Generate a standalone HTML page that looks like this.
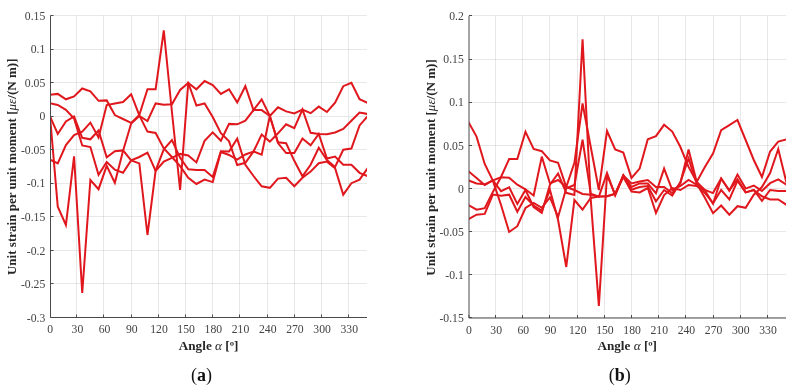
<!DOCTYPE html>
<html><head><meta charset="utf-8"><style>html,body{margin:0;padding:0;background:#fff;overflow:hidden}svg{display:block;will-change:transform;}</style></head>
<body><svg width="798" height="389" viewBox="0 0 798 389" font-family='"Liberation Serif", serif' font-size="13.3" fill="#262626">
<rect width="798" height="389" fill="#fff"/>
<line x1="76.5" y1="15.5" x2="76.5" y2="317.5" stroke="#000" stroke-opacity="0.09" stroke-width="1"/>
<line x1="103.5" y1="15.5" x2="103.5" y2="317.5" stroke="#000" stroke-opacity="0.09" stroke-width="1"/>
<line x1="131.5" y1="15.5" x2="131.5" y2="317.5" stroke="#000" stroke-opacity="0.09" stroke-width="1"/>
<line x1="158.5" y1="15.5" x2="158.5" y2="317.5" stroke="#000" stroke-opacity="0.09" stroke-width="1"/>
<line x1="185.5" y1="15.5" x2="185.5" y2="317.5" stroke="#000" stroke-opacity="0.09" stroke-width="1"/>
<line x1="212.5" y1="15.5" x2="212.5" y2="317.5" stroke="#000" stroke-opacity="0.09" stroke-width="1"/>
<line x1="239.5" y1="15.5" x2="239.5" y2="317.5" stroke="#000" stroke-opacity="0.09" stroke-width="1"/>
<line x1="267.5" y1="15.5" x2="267.5" y2="317.5" stroke="#000" stroke-opacity="0.09" stroke-width="1"/>
<line x1="294.5" y1="15.5" x2="294.5" y2="317.5" stroke="#000" stroke-opacity="0.09" stroke-width="1"/>
<line x1="321.5" y1="15.5" x2="321.5" y2="317.5" stroke="#000" stroke-opacity="0.09" stroke-width="1"/>
<line x1="348.5" y1="15.5" x2="348.5" y2="317.5" stroke="#000" stroke-opacity="0.09" stroke-width="1"/>
<line x1="51.0" y1="317.5" x2="367" y2="317.5" stroke="#000" stroke-opacity="0.09" stroke-width="1"/>
<line x1="51.0" y1="283.5" x2="367" y2="283.5" stroke="#000" stroke-opacity="0.09" stroke-width="1"/>
<line x1="51.0" y1="250.5" x2="367" y2="250.5" stroke="#000" stroke-opacity="0.09" stroke-width="1"/>
<line x1="51.0" y1="216.5" x2="367" y2="216.5" stroke="#000" stroke-opacity="0.09" stroke-width="1"/>
<line x1="51.0" y1="183.5" x2="367" y2="183.5" stroke="#000" stroke-opacity="0.09" stroke-width="1"/>
<line x1="51.0" y1="149.5" x2="367" y2="149.5" stroke="#000" stroke-opacity="0.09" stroke-width="1"/>
<line x1="51.0" y1="116.5" x2="367" y2="116.5" stroke="#000" stroke-opacity="0.09" stroke-width="1"/>
<line x1="51.0" y1="82.5" x2="367" y2="82.5" stroke="#000" stroke-opacity="0.09" stroke-width="1"/>
<line x1="51.0" y1="49.5" x2="367" y2="49.5" stroke="#000" stroke-opacity="0.09" stroke-width="1"/>
<line x1="51.0" y1="15.5" x2="367" y2="15.5" stroke="#000" stroke-opacity="0.09" stroke-width="1"/>
<clipPath id="ca"><rect x="50.5" y="-4.5" width="316.5" height="322.0"/></clipPath><g clip-path="url(#ca)">
<polyline points="49.60,94.70 57.76,93.90 65.91,99.30 74.07,96.40 82.23,88.50 90.38,91.40 98.54,100.80 106.70,100.40 114.85,115.10 123.01,119.00 131.17,122.90 139.32,115.00 147.48,89.20 155.64,89.20 163.79,30.30 171.95,112.00 180.11,190.00 188.26,83.00 196.42,89.30 204.58,81.00 212.73,85.10 220.89,93.90 229.05,89.30 237.20,102.40 245.36,86.20 253.52,110.10 261.67,99.30 269.83,116.00 277.99,107.30 286.14,111.40 294.30,113.40 302.46,109.50 310.61,113.20 318.77,106.60 326.93,112.00 335.08,102.60 343.24,86.20 351.40,82.80 359.55,99.20 367.71,102.90" fill="none" stroke="#e0181e" stroke-width="2" stroke-linejoin="miter" stroke-miterlimit="4"/>
<polyline points="49.60,103.10 57.76,105.00 65.91,109.80 74.07,118.50 82.23,145.50 90.38,147.00 98.54,174.80 106.70,162.00 114.85,169.70 123.01,172.80 131.17,160.40 139.32,157.00 147.48,152.70 155.64,170.90 163.79,161.60 171.95,157.80 180.11,153.90 188.26,155.50 196.42,162.40 204.58,140.80 212.73,132.40 220.89,140.80 229.05,123.90 237.20,124.30 245.36,120.70 253.52,110.10 261.67,110.10 269.83,116.00 277.99,142.30 286.14,143.30 294.30,160.80 302.46,176.30 310.61,164.70 318.77,147.70 326.93,160.00 335.08,167.00 343.24,149.70 351.40,148.50 359.55,125.40 367.71,116.20" fill="none" stroke="#e0181e" stroke-width="2" stroke-linejoin="miter" stroke-miterlimit="4"/>
<polyline points="49.60,115.40 57.76,134.00 65.91,121.50 74.07,116.50 82.23,137.80 90.38,139.30 98.54,130.50 106.70,157.40 114.85,151.20 123.01,150.40 131.17,160.40 139.32,163.40 147.48,235.00 155.64,170.60 163.79,149.30 171.95,140.00 180.11,157.80 188.26,169.30 196.42,170.10 204.58,170.10 212.73,177.00 220.89,151.30 229.05,151.50 237.20,138.60 245.36,164.80 253.52,176.00 261.67,186.30 269.83,187.80 277.99,178.60 286.14,177.80 294.30,186.30 302.46,177.80 310.61,171.60 318.77,163.20 326.93,161.60 335.08,168.20 343.24,194.70 351.40,183.20 359.55,179.70 367.71,168.20" fill="none" stroke="#e0181e" stroke-width="2" stroke-linejoin="miter" stroke-miterlimit="4"/>
<polyline points="49.60,159.40 57.76,163.50 65.91,145.00 74.07,135.00 82.23,131.70 90.38,122.60 98.54,137.50 106.70,105.00 114.85,103.50 123.01,102.00 131.17,94.20 139.32,115.40 147.48,131.60 155.64,133.00 163.79,148.50 171.95,157.00 180.11,166.20 188.26,177.80 196.42,184.00 204.58,179.60 212.73,182.10 220.89,152.00 229.05,155.00 237.20,159.70 245.36,154.50 253.52,151.50 261.67,154.70 269.83,116.00 277.99,143.10 286.14,153.10 294.30,153.10 302.46,138.50 310.61,145.30 318.77,134.00 326.93,158.50 335.08,156.60 343.24,164.70 351.40,164.70 359.55,172.80 367.71,176.20" fill="none" stroke="#e0181e" stroke-width="2" stroke-linejoin="miter" stroke-miterlimit="4"/>
<polyline points="49.60,111.30 57.76,206.70 65.91,225.00 74.07,156.30 82.23,293.00 90.38,180.00 98.54,189.20 106.70,165.80 114.85,182.80 123.01,151.00 131.17,123.50 139.32,116.00 147.48,121.00 155.64,103.40 163.79,104.80 171.95,104.30 180.11,90.00 188.26,83.00 196.42,105.50 204.58,103.50 212.73,117.00 220.89,133.10 229.05,141.40 237.20,165.00 245.36,162.80 253.52,151.50 261.67,134.60 269.83,141.60 277.99,133.30 286.14,124.30 294.30,128.10 302.46,109.50 310.61,132.80 318.77,134.00 326.93,134.30 335.08,132.50 343.24,129.00 351.40,120.80 359.55,112.50 367.71,114.00" fill="none" stroke="#e0181e" stroke-width="2" stroke-linejoin="miter" stroke-miterlimit="4"/>
</g>
<path d="M50.5,15.5 V317.5 H367" fill="none" stroke="#4a4a4a" stroke-width="1"/>
<line x1="50.5" y1="317.5" x2="50.5" y2="314.5" stroke="#4a4a4a" stroke-width="1"/>
<text transform="translate(50.20,333.10) scale(0.88,1)" text-anchor="middle" fill="#444444">0</text>
<line x1="76.5" y1="317.5" x2="76.5" y2="314.5" stroke="#4a4a4a" stroke-width="1"/>
<text transform="translate(77.39,333.10) scale(0.88,1)" text-anchor="middle" fill="#444444">30</text>
<line x1="103.5" y1="317.5" x2="103.5" y2="314.5" stroke="#4a4a4a" stroke-width="1"/>
<text transform="translate(104.58,333.10) scale(0.88,1)" text-anchor="middle" fill="#444444">60</text>
<line x1="131.5" y1="317.5" x2="131.5" y2="314.5" stroke="#4a4a4a" stroke-width="1"/>
<text transform="translate(131.77,333.10) scale(0.88,1)" text-anchor="middle" fill="#444444">90</text>
<line x1="158.5" y1="317.5" x2="158.5" y2="314.5" stroke="#4a4a4a" stroke-width="1"/>
<text transform="translate(158.96,333.10) scale(0.88,1)" text-anchor="middle" fill="#444444">120</text>
<line x1="185.5" y1="317.5" x2="185.5" y2="314.5" stroke="#4a4a4a" stroke-width="1"/>
<text transform="translate(186.14,333.10) scale(0.88,1)" text-anchor="middle" fill="#444444">150</text>
<line x1="212.5" y1="317.5" x2="212.5" y2="314.5" stroke="#4a4a4a" stroke-width="1"/>
<text transform="translate(213.33,333.10) scale(0.88,1)" text-anchor="middle" fill="#444444">180</text>
<line x1="239.5" y1="317.5" x2="239.5" y2="314.5" stroke="#4a4a4a" stroke-width="1"/>
<text transform="translate(240.52,333.10) scale(0.88,1)" text-anchor="middle" fill="#444444">210</text>
<line x1="267.5" y1="317.5" x2="267.5" y2="314.5" stroke="#4a4a4a" stroke-width="1"/>
<text transform="translate(267.71,333.10) scale(0.88,1)" text-anchor="middle" fill="#444444">240</text>
<line x1="294.5" y1="317.5" x2="294.5" y2="314.5" stroke="#4a4a4a" stroke-width="1"/>
<text transform="translate(294.90,333.10) scale(0.88,1)" text-anchor="middle" fill="#444444">270</text>
<line x1="321.5" y1="317.5" x2="321.5" y2="314.5" stroke="#4a4a4a" stroke-width="1"/>
<text transform="translate(322.09,333.10) scale(0.88,1)" text-anchor="middle" fill="#444444">300</text>
<line x1="348.5" y1="317.5" x2="348.5" y2="314.5" stroke="#4a4a4a" stroke-width="1"/>
<text transform="translate(349.28,333.10) scale(0.88,1)" text-anchor="middle" fill="#444444">330</text>
<line x1="50.5" y1="317.5" x2="53.5" y2="317.5" stroke="#4a4a4a" stroke-width="1"/>
<text transform="translate(45.3,321.65) scale(0.88,1)" text-anchor="end" fill="#444444">-0.3</text>
<line x1="50.5" y1="283.5" x2="53.5" y2="283.5" stroke="#4a4a4a" stroke-width="1"/>
<text transform="translate(45.3,288.10) scale(0.88,1)" text-anchor="end" fill="#444444">-0.25</text>
<line x1="50.5" y1="250.5" x2="53.5" y2="250.5" stroke="#4a4a4a" stroke-width="1"/>
<text transform="translate(45.3,254.55) scale(0.88,1)" text-anchor="end" fill="#444444">-0.2</text>
<line x1="50.5" y1="216.5" x2="53.5" y2="216.5" stroke="#4a4a4a" stroke-width="1"/>
<text transform="translate(45.3,221.00) scale(0.88,1)" text-anchor="end" fill="#444444">-0.15</text>
<line x1="50.5" y1="183.5" x2="53.5" y2="183.5" stroke="#4a4a4a" stroke-width="1"/>
<text transform="translate(45.3,187.45) scale(0.88,1)" text-anchor="end" fill="#444444">-0.1</text>
<line x1="50.5" y1="149.5" x2="53.5" y2="149.5" stroke="#4a4a4a" stroke-width="1"/>
<text transform="translate(45.3,153.90) scale(0.88,1)" text-anchor="end" fill="#444444">-0.05</text>
<line x1="50.5" y1="116.5" x2="53.5" y2="116.5" stroke="#4a4a4a" stroke-width="1"/>
<text transform="translate(45.3,120.35) scale(0.88,1)" text-anchor="end" fill="#444444">0</text>
<line x1="50.5" y1="82.5" x2="53.5" y2="82.5" stroke="#4a4a4a" stroke-width="1"/>
<text transform="translate(45.3,86.80) scale(0.88,1)" text-anchor="end" fill="#444444">0.05</text>
<line x1="50.5" y1="49.5" x2="53.5" y2="49.5" stroke="#4a4a4a" stroke-width="1"/>
<text transform="translate(45.3,53.25) scale(0.88,1)" text-anchor="end" fill="#444444">0.1</text>
<line x1="50.5" y1="15.5" x2="53.5" y2="15.5" stroke="#4a4a4a" stroke-width="1"/>
<text transform="translate(45.3,19.70) scale(0.88,1)" text-anchor="end" fill="#444444">0.15</text>
<text x="208.6" y="349.5" text-anchor="middle" font-weight="bold" font-size="13.2">Angle <tspan font-style="italic" font-weight="normal">α</tspan> [º]</text>
<text transform="translate(16.2,166.8) rotate(-90)" text-anchor="middle" font-weight="bold" font-size="13.05">Unit strain per unit moment [<tspan font-style="italic" font-weight="normal">με</tspan>/(N m)]</text>
<text x="201.5" y="381.2" text-anchor="middle" font-size="18" fill="#111">(<tspan font-weight="bold">a</tspan>)</text>
<line x1="495.5" y1="15.9" x2="495.5" y2="318" stroke="#000" stroke-opacity="0.09" stroke-width="1"/>
<line x1="522.5" y1="15.9" x2="522.5" y2="318" stroke="#000" stroke-opacity="0.09" stroke-width="1"/>
<line x1="549.5" y1="15.9" x2="549.5" y2="318" stroke="#000" stroke-opacity="0.09" stroke-width="1"/>
<line x1="577.5" y1="15.9" x2="577.5" y2="318" stroke="#000" stroke-opacity="0.09" stroke-width="1"/>
<line x1="604.5" y1="15.9" x2="604.5" y2="318" stroke="#000" stroke-opacity="0.09" stroke-width="1"/>
<line x1="631.5" y1="15.9" x2="631.5" y2="318" stroke="#000" stroke-opacity="0.09" stroke-width="1"/>
<line x1="658.5" y1="15.9" x2="658.5" y2="318" stroke="#000" stroke-opacity="0.09" stroke-width="1"/>
<line x1="685.5" y1="15.9" x2="685.5" y2="318" stroke="#000" stroke-opacity="0.09" stroke-width="1"/>
<line x1="713.5" y1="15.9" x2="713.5" y2="318" stroke="#000" stroke-opacity="0.09" stroke-width="1"/>
<line x1="740.5" y1="15.9" x2="740.5" y2="318" stroke="#000" stroke-opacity="0.09" stroke-width="1"/>
<line x1="767.5" y1="15.9" x2="767.5" y2="318" stroke="#000" stroke-opacity="0.09" stroke-width="1"/>
<line x1="469.5" y1="317.5" x2="786" y2="317.5" stroke="#000" stroke-opacity="0.09" stroke-width="1"/>
<line x1="469.5" y1="274.5" x2="786" y2="274.5" stroke="#000" stroke-opacity="0.09" stroke-width="1"/>
<line x1="469.5" y1="231.5" x2="786" y2="231.5" stroke="#000" stroke-opacity="0.09" stroke-width="1"/>
<line x1="469.5" y1="188.5" x2="786" y2="188.5" stroke="#000" stroke-opacity="0.09" stroke-width="1"/>
<line x1="469.5" y1="145.5" x2="786" y2="145.5" stroke="#000" stroke-opacity="0.09" stroke-width="1"/>
<line x1="469.5" y1="102.5" x2="786" y2="102.5" stroke="#000" stroke-opacity="0.09" stroke-width="1"/>
<line x1="469.5" y1="59.5" x2="786" y2="59.5" stroke="#000" stroke-opacity="0.09" stroke-width="1"/>
<line x1="469.5" y1="15.5" x2="786" y2="15.5" stroke="#000" stroke-opacity="0.09" stroke-width="1"/>
<clipPath id="cb"><rect x="469" y="-4.1" width="317" height="322.1"/></clipPath><g clip-path="url(#cb)">
<polyline points="468.40,205.10 476.55,209.70 484.71,208.20 492.86,192.00 501.02,177.00 509.17,159.00 517.32,159.00 525.48,131.70 533.63,149.00 541.79,151.20 549.94,160.40 558.09,162.70 566.25,187.10 574.40,162.80 582.56,103.50 590.71,146.70 598.86,190.00 607.02,131.00 615.17,149.50 623.33,152.60 631.48,177.90 639.63,168.60 647.79,139.30 655.94,136.20 664.10,124.80 672.25,131.60 680.40,147.00 688.56,166.90 696.71,182.00 704.87,166.90 713.02,153.50 721.17,130.10 729.33,125.10 737.48,120.00 745.64,140.00 753.79,160.00 761.94,177.00 770.10,151.50 778.25,141.60 786.41,139.30" fill="none" stroke="#e0181e" stroke-width="2" stroke-linejoin="miter" stroke-miterlimit="4"/>
<polyline points="468.40,171.20 476.55,178.10 484.71,185.10 492.86,180.40 501.02,191.20 509.17,187.40 517.32,204.00 525.48,190.00 533.63,207.00 541.79,212.90 549.94,184.70 558.09,173.50 566.25,192.80 574.40,195.00 582.56,39.20 590.71,199.00 598.86,306.00 607.02,175.00 615.17,194.70 623.33,175.40 631.48,183.40 639.63,181.60 647.79,180.00 655.94,187.00 664.10,187.00 672.25,193.20 680.40,183.20 688.56,149.50 696.71,182.00 704.87,190.00 713.02,193.10 721.17,178.50 729.33,190.80 737.48,174.60 745.64,188.60 753.79,185.50 761.94,190.90 770.10,183.20 778.25,179.30 786.41,184.70" fill="none" stroke="#e0181e" stroke-width="2" stroke-linejoin="miter" stroke-miterlimit="4"/>
<polyline points="468.40,121.90 476.55,136.60 484.71,164.00 492.86,180.60 501.02,205.00 509.17,232.00 517.32,226.20 525.48,208.00 533.63,203.00 541.79,207.80 549.94,197.40 558.09,217.00 566.25,188.20 574.40,185.00 582.56,139.70 590.71,193.60 598.86,196.70 607.02,173.00 615.17,195.50 623.33,175.40 631.48,189.70 639.63,187.00 647.79,186.00 655.94,201.30 664.10,190.00 672.25,195.50 680.40,182.00 688.56,158.50 696.71,183.60 704.87,197.80 713.02,213.20 721.17,205.50 729.33,214.70 737.48,206.20 745.64,207.80 753.79,194.70 761.94,187.00 770.10,173.00 778.25,149.00 786.41,182.40" fill="none" stroke="#e0181e" stroke-width="2" stroke-linejoin="miter" stroke-miterlimit="4"/>
<polyline points="468.40,180.40 476.55,183.50 484.71,184.30 492.86,180.40 501.02,177.30 509.17,177.70 517.32,184.70 525.48,189.30 533.63,195.50 541.79,156.60 549.94,183.50 558.09,180.00 566.25,187.00 574.40,190.00 582.56,194.00 590.71,194.80 598.86,196.40 607.02,196.20 615.17,193.70 623.33,175.40 631.48,187.00 639.63,183.40 647.79,183.50 655.94,193.30 664.10,168.60 672.25,190.00 680.40,186.00 688.56,180.00 696.71,184.70 704.87,193.00 713.02,203.20 721.17,190.00 729.33,199.30 737.48,180.80 745.64,192.40 753.79,190.10 761.94,196.30 770.10,199.40 778.25,199.40 786.41,204.80" fill="none" stroke="#e0181e" stroke-width="2" stroke-linejoin="miter" stroke-miterlimit="4"/>
<polyline points="468.40,219.30 476.55,214.70 484.71,213.90 492.86,194.60 501.02,195.80 509.17,194.70 517.32,211.70 525.48,197.00 533.63,205.50 541.79,210.50 549.94,190.00 558.09,220.00 566.25,267.00 574.40,200.00 582.56,209.60 590.71,198.00 598.86,196.40 607.02,196.20 615.17,194.00 623.33,177.00 631.48,191.50 639.63,192.40 647.79,188.00 655.94,213.00 664.10,195.00 672.25,188.00 680.40,190.00 688.56,185.00 696.71,186.00 704.87,190.30 713.02,203.70 721.17,178.60 729.33,190.30 737.48,179.30 745.64,192.40 753.79,190.00 761.94,200.90 770.10,190.00 778.25,190.90 786.41,190.90" fill="none" stroke="#e0181e" stroke-width="2" stroke-linejoin="miter" stroke-miterlimit="4"/>
</g>
<path d="M469,15.9 V318 H786" fill="none" stroke="#4a4a4a" stroke-width="1"/>
<line x1="469" y1="318" x2="469" y2="315" stroke="#4a4a4a" stroke-width="1"/>
<text transform="translate(469.00,333.60) scale(0.88,1)" text-anchor="middle" fill="#444444">0</text>
<line x1="495.5" y1="318" x2="495.5" y2="315" stroke="#4a4a4a" stroke-width="1"/>
<text transform="translate(496.18,333.60) scale(0.88,1)" text-anchor="middle" fill="#444444">30</text>
<line x1="522.5" y1="318" x2="522.5" y2="315" stroke="#4a4a4a" stroke-width="1"/>
<text transform="translate(523.36,333.60) scale(0.88,1)" text-anchor="middle" fill="#444444">60</text>
<line x1="549.5" y1="318" x2="549.5" y2="315" stroke="#4a4a4a" stroke-width="1"/>
<text transform="translate(550.54,333.60) scale(0.88,1)" text-anchor="middle" fill="#444444">90</text>
<line x1="577.5" y1="318" x2="577.5" y2="315" stroke="#4a4a4a" stroke-width="1"/>
<text transform="translate(577.72,333.60) scale(0.88,1)" text-anchor="middle" fill="#444444">120</text>
<line x1="604.5" y1="318" x2="604.5" y2="315" stroke="#4a4a4a" stroke-width="1"/>
<text transform="translate(604.90,333.60) scale(0.88,1)" text-anchor="middle" fill="#444444">150</text>
<line x1="631.5" y1="318" x2="631.5" y2="315" stroke="#4a4a4a" stroke-width="1"/>
<text transform="translate(632.08,333.60) scale(0.88,1)" text-anchor="middle" fill="#444444">180</text>
<line x1="658.5" y1="318" x2="658.5" y2="315" stroke="#4a4a4a" stroke-width="1"/>
<text transform="translate(659.26,333.60) scale(0.88,1)" text-anchor="middle" fill="#444444">210</text>
<line x1="685.5" y1="318" x2="685.5" y2="315" stroke="#4a4a4a" stroke-width="1"/>
<text transform="translate(686.44,333.60) scale(0.88,1)" text-anchor="middle" fill="#444444">240</text>
<line x1="713.5" y1="318" x2="713.5" y2="315" stroke="#4a4a4a" stroke-width="1"/>
<text transform="translate(713.62,333.60) scale(0.88,1)" text-anchor="middle" fill="#444444">270</text>
<line x1="740.5" y1="318" x2="740.5" y2="315" stroke="#4a4a4a" stroke-width="1"/>
<text transform="translate(740.80,333.60) scale(0.88,1)" text-anchor="middle" fill="#444444">300</text>
<line x1="767.5" y1="318" x2="767.5" y2="315" stroke="#4a4a4a" stroke-width="1"/>
<text transform="translate(767.98,333.60) scale(0.88,1)" text-anchor="middle" fill="#444444">330</text>
<line x1="469" y1="317.5" x2="472" y2="317.5" stroke="#4a4a4a" stroke-width="1"/>
<text transform="translate(463.8,322.15) scale(0.88,1)" text-anchor="end" fill="#444444">-0.15</text>
<line x1="469" y1="274.5" x2="472" y2="274.5" stroke="#4a4a4a" stroke-width="1"/>
<text transform="translate(463.8,279.00) scale(0.88,1)" text-anchor="end" fill="#444444">-0.1</text>
<line x1="469" y1="231.5" x2="472" y2="231.5" stroke="#4a4a4a" stroke-width="1"/>
<text transform="translate(463.8,235.85) scale(0.88,1)" text-anchor="end" fill="#444444">-0.05</text>
<line x1="469" y1="188.5" x2="472" y2="188.5" stroke="#4a4a4a" stroke-width="1"/>
<text transform="translate(463.8,192.70) scale(0.88,1)" text-anchor="end" fill="#444444">0</text>
<line x1="469" y1="145.5" x2="472" y2="145.5" stroke="#4a4a4a" stroke-width="1"/>
<text transform="translate(463.8,149.55) scale(0.88,1)" text-anchor="end" fill="#444444">0.05</text>
<line x1="469" y1="102.5" x2="472" y2="102.5" stroke="#4a4a4a" stroke-width="1"/>
<text transform="translate(463.8,106.40) scale(0.88,1)" text-anchor="end" fill="#444444">0.1</text>
<line x1="469" y1="59.5" x2="472" y2="59.5" stroke="#4a4a4a" stroke-width="1"/>
<text transform="translate(463.8,63.25) scale(0.88,1)" text-anchor="end" fill="#444444">0.15</text>
<line x1="469" y1="15.5" x2="472" y2="15.5" stroke="#4a4a4a" stroke-width="1"/>
<text transform="translate(463.8,20.10) scale(0.88,1)" text-anchor="end" fill="#444444">0.2</text>
<text x="627.2" y="350" text-anchor="middle" font-weight="bold" font-size="13.2">Angle <tspan font-style="italic" font-weight="normal">α</tspan> [º]</text>
<text transform="translate(434.6,167.5) rotate(-90)" text-anchor="middle" font-weight="bold" font-size="13.05">Unit strain per unit moment [<tspan font-style="italic" font-weight="normal">με</tspan>/(N m)]</text>
<text x="619.7" y="381.2" text-anchor="middle" font-size="18" fill="#111">(<tspan font-weight="bold">b</tspan>)</text>
</svg></body></html>
